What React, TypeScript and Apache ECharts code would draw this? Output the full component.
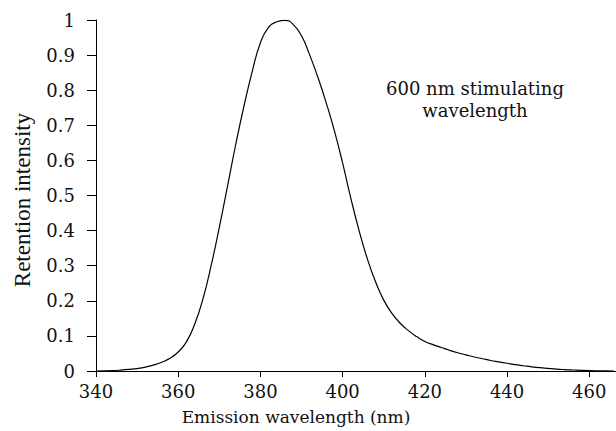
import React, { useEffect, useRef } from "react";
import * as echarts from "echarts";

const wavelengths: number[] = [
  340, 342, 344, 346, 348, 350, 352, 354, 356, 358, 360, 362, 364, 366, 368, 370, 372, 374, 376, 378,
  380, 382, 384, 386, 388, 390, 392, 394, 396, 398, 400, 402, 404, 406, 408, 410, 412, 414, 416, 418,
  420, 422, 424, 426, 428, 430, 432, 434, 436, 438, 440, 442, 444, 446, 448, 450, 452, 454, 456, 458,
  460, 462, 464, 466,
];
const intensity: number[] = [
  0, 0.0003, 0.001, 0.0025, 0.0045, 0.007, 0.011, 0.017, 0.025, 0.036, 0.054, 0.083, 0.133, 0.205, 0.3, 0.409, 0.527, 0.646, 0.755, 0.853,
  0.935, 0.98, 0.995, 0.999, 0.987, 0.955, 0.9, 0.836, 0.764, 0.684, 0.592, 0.492, 0.4, 0.32, 0.254, 0.202, 0.164, 0.136, 0.115, 0.098,
  0.084, 0.075, 0.067, 0.059, 0.052, 0.046, 0.04, 0.035, 0.03, 0.026, 0.022, 0.018, 0.015, 0.012, 0.0095, 0.0075, 0.0055, 0.004, 0.0028, 0.0018,
  0.001, 0.0005, 0.0002, 0,
];
const xTicks: number[] = [340, 360, 380, 400, 420, 440, 460];
const yTicks: number[] = [0, 0.1, 0.2, 0.3, 0.4, 0.5, 0.6, 0.7, 0.8, 0.9, 1];
const xTitle = "Emission wavelength (nm)";
const yTitle = "Retention intensity";
const annotation = "600 nm stimulating\nwavelength";

const FONT = "DejaVu Serif";
const TIMES = "Liberation Serif";

export default function App() {
  const ref = useRef<HTMLDivElement>(null);
  useEffect(() => {
    if (!ref.current) return;
    const chart = echarts.init(ref.current, null, { renderer: "svg" });
    const data = wavelengths.map((w, i) => [w, intensity[i]]);
    chart.setOption({
      animation: false,
      backgroundColor: "#ffffff",
      grid: { left: 96, top: 20, right: 0, height: 351, containLabel: false },
      xAxis: {
        type: "value",
        min: 340,
        max: 466.5,
        interval: 20,
        axisLine: { show: true, lineStyle: { color: "#000", width: 1 } },
        axisTick: { show: true, length: 6, customValues: xTicks, lineStyle: { color: "#000" } },
        axisLabel: {
          customValues: xTicks,
          margin: 11,
          color: "#111",
          fontFamily: FONT,
          fontSize: 18,
        },
        splitLine: { show: false },
      },
      yAxis: {
        type: "value",
        min: 0,
        max: 1,
        interval: 0.1,
        axisLine: { show: true, lineStyle: { color: "#000", width: 1 } },
        axisTick: { show: true, length: 9, customValues: yTicks, lineStyle: { color: "#000" } },
        axisLabel: {
          customValues: yTicks,
          margin: 21,
          color: "#111",
          fontFamily: FONT,
          fontSize: 18,
          formatter: (v: number) => String(Math.round(v * 10) / 10),
        },
        splitLine: { show: false },
      },
      series: [
        {
          type: "line",
          data,
          smooth: true,
          showSymbol: false,
          lineStyle: { color: "#000", width: 1.2 },
        },
      ],
      graphic: [
        {
          type: "text",
          x: 296,
          y: 417,
          style: {
            text: xTitle,
            font: `17px "${FONT}"`,
            fill: "#111",
            textAlign: "center",
            textVerticalAlign: "middle",
          },
        },
        {
          type: "text",
          x: 22,
          y: 200,
          rotation: Math.PI / 2,
          style: {
            text: yTitle,
            font: `23px "${TIMES}"`,
            fill: "#111",
            textAlign: "center",
            textVerticalAlign: "middle",
          },
        },
        {
          type: "text",
          x: 475,
          y: 99,
          style: {
            text: annotation,
            font: `18px "${FONT}"`,
            lineHeight: 22,
            fill: "#111",
            textAlign: "center",
            textVerticalAlign: "middle",
          },
        },
      ],
    });
    return () => chart.dispose();
  }, []);
  return (
    <div
      ref={ref}
      style={{ position: "fixed", left: 0, top: 0, width: 616, height: 431, background: "#fff" }}
    />
  );
}
